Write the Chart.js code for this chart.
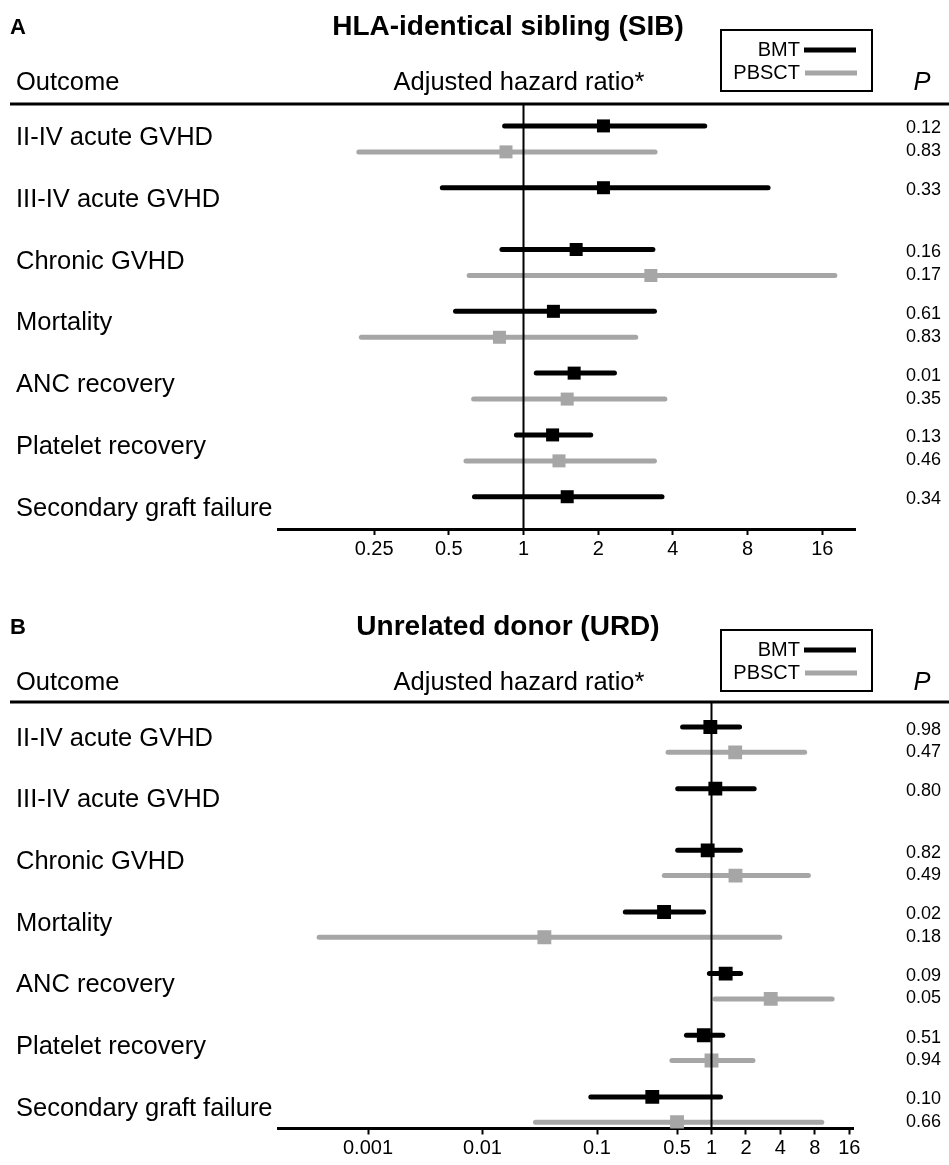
<!DOCTYPE html>
<html>
<head>
<meta charset="utf-8">
<script src="https://cdn.jsdelivr.net/npm/chart.js@4.4.1/dist/chart.umd.min.js"></script>
<style>
  html, body { margin: 0; padding: 0; background: #fff; overflow: hidden; }
  #wrap { position: relative; width: 949px; height: 1165px; }
  .panel { position: absolute; left: 0; width: 949px; }
  canvas { display: block; }
</style>
</head>
<body>
<div id="wrap">
  <div class="panel" style="top:0px;height:600px"><canvas id="cA" width="949" height="600"></canvas></div>
  <div class="panel" style="top:600px;height:565px"><canvas id="cB" width="949" height="565"></canvas></div>
</div>
<script>
// ---------------- DATA ----------------
const outcomes = ["II-IV acute GVHD", "III-IV acute GVHD", "Chronic GVHD", "Mortality",
                  "ANC recovery", "Platelet recovery", "Secondary graft failure"];
const seriesNames = ["BMT", "PBSCT"];

// Panel A: HLA-identical sibling (SIB)
const sibBmtHR   = [2.10, 2.10, 1.63, 1.32, 1.60, 1.31, 1.50];
const sibBmtLow  = [0.82, 0.46, 0.80, 0.52, 1.10, 0.915, 0.62];
const sibBmtHigh = [5.5, 9.9, 3.4, 3.45, 2.38, 1.91, 3.7];
const sibBmtP    = ["0.12", "0.33", "0.16", "0.61", "0.01", "0.13", "0.34"];
const sibPbHR    = [0.85, null, 3.26, 0.80, 1.50, 1.39, null];
const sibPbLow   = [0.212, null, 0.59, 0.217, 0.615, 0.573, null];
const sibPbHigh  = [3.47, null, 18.4, 2.90, 3.80, 3.45, null];
const sibPbP     = ["0.83", null, "0.17", "0.83", "0.35", "0.46", null];
const sibTicks      = [0.25, 0.5, 1, 2, 4, 8, 16];
const sibTickLabels = ["0.25", "0.5", "1", "2", "4", "8", "16"];

// Panel B: Unrelated donor (URD)
const urdBmtHR   = [0.977, 1.08, 0.926, 0.385, 1.33, 0.857, 0.304];
const urdBmtLow  = [0.532, 0.482, 0.482, 0.168, 0.912, 0.575, 0.084];
const urdBmtHigh = [1.85, 2.48, 1.88, 0.898, 1.89, 1.32, 1.26];
const urdBmtP    = ["0.98", "0.80", "0.82", "0.02", "0.09", "0.51", "0.10"];
const urdPbHR    = [1.61, null, 1.62, 0.0347, 3.29, 1.0, 0.50];
const urdPbLow   = [0.397, null, 0.368, 0.000356, 1.02, 0.429, 0.0276];
const urdPbHigh  = [6.84, null, 7.38, 4.15, 11.9, 2.42, 9.66];
const urdPbP     = ["0.47", null, "0.49", "0.18", "0.05", "0.94", "0.66"];
const urdTicks      = [0.001, 0.01, 0.1, 0.5, 1, 2, 4, 8, 16];
const urdTickLabels = ["0.001", "0.01", "0.1", "0.5", "1", "2", "4", "8", "16"];

// ---------------- STYLE ----------------
const FONT = '"Liberation Sans", Arial, Helvetica, sans-serif';
const BLACK = '#000000';
const GRAY = '#a6a6a6';

function makePanel(canvasId, s, d) {
  const H = s.height;
  const yMin = 3 + (s.top - s.c3) / s.step;
  const yMax = 3 + (s.bottom - s.c3) / s.step;
  const bmtY = i => i - s.off;
  const pbY = i => i + s.off;
  const ci = (lo, hi, yf) => lo.map((l, i) => l == null ? null : { y: yf(i), x: [l, hi[i]] }).filter(Boolean);
  const pts = (hr, yf) => hr.map((v, i) => v == null ? null : { x: v, y: yf(i) }).filter(Boolean);

  const decor = {
    id: 'decor' + canvasId,
    afterDatasetsDraw(chart) {
      const ctx = chart.ctx, xs = chart.scales.x, ca = chart.chartArea;
      ctx.save();
      const x1 = xs.getPixelForValue(1);
      ctx.strokeStyle = BLACK; ctx.lineWidth = 2;
      ctx.beginPath(); ctx.moveTo(x1, ca.top); ctx.lineTo(x1, ca.bottom); ctx.stroke();
      ctx.restore();
    },
    afterDraw(chart) {
      const ctx = chart.ctx, ys = chart.scales.y, ca = chart.chartArea;
      ctx.save();
      ctx.fillStyle = BLACK;
      ctx.textBaseline = 'middle';
      // panel letter
      ctx.font = 'bold 22px ' + FONT; ctx.textAlign = 'left';
      ctx.fillText(d.letter, 10, s.hdr + 28);
      // title
      ctx.font = 'bold 28px ' + FONT; ctx.textAlign = 'center';
      ctx.fillText(d.title, 508, s.hdr + 27);
      // legend box
      ctx.strokeStyle = BLACK; ctx.lineWidth = 2;
      ctx.strokeRect(721, s.hdr + 30, 151, 61);
      ctx.font = '20px ' + FONT; ctx.textAlign = 'right';
      ctx.fillText(seriesNames[0], 800, s.hdr + 50);
      ctx.fillText(seriesNames[1], 800, s.hdr + 73);
      ctx.lineWidth = 5;
      ctx.strokeStyle = BLACK;
      ctx.beginPath(); ctx.moveTo(804, s.hdr + 50); ctx.lineTo(856, s.hdr + 50); ctx.stroke();
      ctx.strokeStyle = GRAY;
      ctx.beginPath(); ctx.moveTo(805, s.hdr + 73); ctx.lineTo(857, s.hdr + 73); ctx.stroke();
      // column headers
      ctx.font = '25.5px ' + FONT; ctx.textAlign = 'left';
      ctx.fillText('Outcome', 16, s.hdr + 83);
      ctx.textAlign = 'center';
      ctx.fillText('Adjusted hazard ratio*', 519, s.hdr + 83);
      ctx.font = 'italic 25.5px ' + FONT;
      ctx.fillText('P', 922, s.hdr + 83);
      // header rule
      ctx.strokeStyle = BLACK; ctx.lineWidth = 3;
      ctx.beginPath(); ctx.moveTo(10, ca.top); ctx.lineTo(949, ca.top); ctx.stroke();
      // row labels
      ctx.font = '25.5px ' + FONT; ctx.textAlign = 'left';
      outcomes.forEach((o, i) => ctx.fillText(o, 16, ys.getPixelForValue(i) - 1));
      // P values
      ctx.font = '18px ' + FONT; ctx.textAlign = 'right';
      d.bmtP.forEach((p, i) => { if (p) ctx.fillText(p, 941, ys.getPixelForValue(bmtY(i)) + 2.5); });
      d.pbP.forEach((p, i) => { if (p) ctx.fillText(p, 941, ys.getPixelForValue(pbY(i)) - 0.5); });
      ctx.restore();
    }
  };

  return new Chart(document.getElementById(canvasId), {
    type: 'bar',
    data: {
      datasets: [
        { type: 'scatter', label: 'BMT', data: pts(d.bmtHR, bmtY), pointStyle: 'rect',
          pointRadius: s.sq, pointHoverRadius: s.sq, backgroundColor: BLACK, borderWidth: 0 },
        { type: 'scatter', label: 'PBSCT', data: pts(d.pbHR, pbY), pointStyle: 'rect',
          pointRadius: s.sq, pointHoverRadius: s.sq, backgroundColor: GRAY, borderWidth: 0 },
        { type: 'bar', label: 'BMT CI', indexAxis: 'y', data: ci(d.bmtLow, d.bmtHigh, bmtY),
          backgroundColor: BLACK, maxBarThickness: 5, grouped: false, borderRadius: 2.5, borderSkipped: false },
        { type: 'bar', label: 'PBSCT CI', indexAxis: 'y', data: ci(d.pbLow, d.pbHigh, pbY),
          backgroundColor: GRAY, maxBarThickness: 5, grouped: false, borderRadius: 2.5, borderSkipped: false }
      ]
    },
    options: {
      indexAxis: 'y',
      responsive: false,
      animation: false,
      devicePixelRatio: 1,
      events: [],
      layout: { padding: { left: s.left, right: 949 - s.right, top: s.top, bottom: H - s.bottom - 30 } },
      plugins: { legend: { display: false }, tooltip: { enabled: false }, title: { display: false } },
      scales: {
        x: {
          type: 'logarithmic', position: 'bottom', min: s.xMin, max: s.xMax, offset: false,
          afterBuildTicks(sc) { sc.ticks = d.ticks.map(v => ({ value: v })); },
          afterFit(sc) { sc.height = 30; },
          ticks: {
            autoSkip: false, maxRotation: 0, minRotation: 0, color: BLACK, padding: 2,
            font: { family: FONT, size: 20 },
            callback: (v, i) => d.tickLabels[i]
          },
          grid: { display: true, drawOnChartArea: false, drawTicks: true, tickLength: 6,
                  tickWidth: 2, tickColor: BLACK, offset: false },
          border: { display: true, color: BLACK, width: 3 }
        },
        y: { type: 'linear', display: false, min: yMin, max: yMax, reverse: true, offset: false,
             grid: { offset: false } }
      }
    },
    plugins: [decor]
  });
}

// geometry (layout only)
const geoA = { height: 600, hdr: 0, top: 104, bottom: 529, c3: 324.3, step: 61.8, off: 0.21,
               left: 278, right: 855, xMin: Math.pow(2, -245.5 / 74.7), xMax: Math.pow(2, 331.5 / 74.7), sq: 9.2 };
const geoB = { height: 565, hdr: 0, top: 102, bottom: 528.5, c3: 324.6, step: 61.64, off: 0.205,
               left: 278, right: 853, xMin: Math.pow(10, -433.5 / 114.5), xMax: Math.pow(10, 141.5 / 114.5), sq: 9.8 };

makePanel('cA', geoA, {
  letter: 'A', title: 'HLA-identical sibling (SIB)',
  bmtHR: sibBmtHR, bmtLow: sibBmtLow, bmtHigh: sibBmtHigh, bmtP: sibBmtP,
  pbHR: sibPbHR, pbLow: sibPbLow, pbHigh: sibPbHigh, pbP: sibPbP,
  ticks: sibTicks, tickLabels: sibTickLabels
});
makePanel('cB', geoB, {
  letter: 'B', title: 'Unrelated donor (URD)',
  bmtHR: urdBmtHR, bmtLow: urdBmtLow, bmtHigh: urdBmtHigh, bmtP: urdBmtP,
  pbHR: urdPbHR, pbLow: urdPbLow, pbHigh: urdPbHigh, pbP: urdPbP,
  ticks: urdTicks, tickLabels: urdTickLabels
});
</script>
</body>
</html>
